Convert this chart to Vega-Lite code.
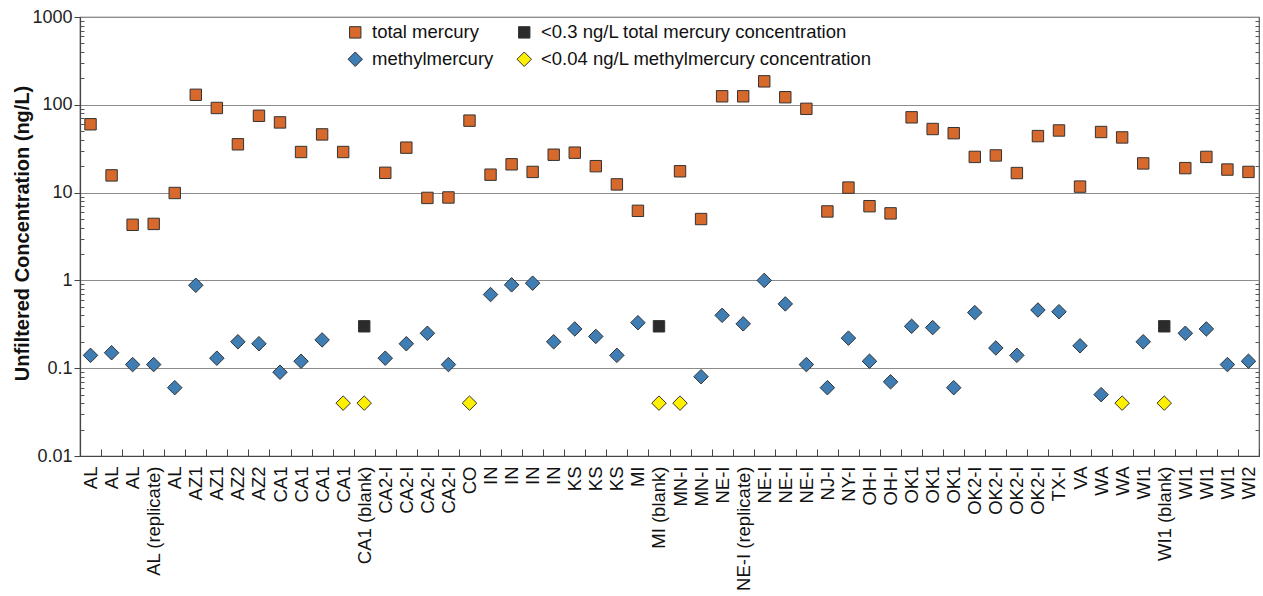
{
  "$schema": "https://vega.github.io/schema/vega-lite/v6.json",
  "autosize": {"type": "none"},
  "padding": {"left": 80, "top": 17, "right": 4, "bottom": 140},
  "width": 1179,
  "height": 439,
  "background": "white",
  "config": {
    "font": "Liberation Sans",
    "view": {"stroke": "#555555", "strokeWidth": 1.2},
    "axis": {"labelFont": "Liberation Sans", "titleFont": "Liberation Sans"},
    "legend": {"labelFont": "Liberation Sans"}
  },
  "data": {
    "values": [
      {"sample": "AL#1", "series": "total mercury", "value": 60},
      {"sample": "AL#1", "series": "methylmercury", "value": 0.14},
      {"sample": "AL#2", "series": "total mercury", "value": 15.7},
      {"sample": "AL#2", "series": "methylmercury", "value": 0.15},
      {"sample": "AL#3", "series": "total mercury", "value": 4.3},
      {"sample": "AL#3", "series": "methylmercury", "value": 0.11},
      {"sample": "AL (replicate)#4", "series": "total mercury", "value": 4.4},
      {"sample": "AL (replicate)#4", "series": "methylmercury", "value": 0.11},
      {"sample": "AL#5", "series": "total mercury", "value": 9.9},
      {"sample": "AL#5", "series": "methylmercury", "value": 0.06},
      {"sample": "AZ1#6", "series": "total mercury", "value": 130},
      {"sample": "AZ1#6", "series": "methylmercury", "value": 0.88},
      {"sample": "AZ1#7", "series": "total mercury", "value": 92},
      {"sample": "AZ1#7", "series": "methylmercury", "value": 0.13},
      {"sample": "AZ2#8", "series": "total mercury", "value": 35.5},
      {"sample": "AZ2#8", "series": "methylmercury", "value": 0.2},
      {"sample": "AZ2#9", "series": "total mercury", "value": 75},
      {"sample": "AZ2#9", "series": "methylmercury", "value": 0.19},
      {"sample": "CA1#10", "series": "total mercury", "value": 63},
      {"sample": "CA1#10", "series": "methylmercury", "value": 0.09},
      {"sample": "CA1#11", "series": "total mercury", "value": 29},
      {"sample": "CA1#11", "series": "methylmercury", "value": 0.12},
      {"sample": "CA1#12", "series": "total mercury", "value": 46},
      {"sample": "CA1#12", "series": "methylmercury", "value": 0.21},
      {"sample": "CA1#13", "series": "total mercury", "value": 29},
      {"sample": "CA1#13", "series": "<0.04 ng/L methylmercury concentration", "value": 0.04},
      {"sample": "CA1 (blank)#14", "series": "<0.3 ng/L total mercury concentration", "value": 0.3},
      {"sample": "CA1 (blank)#14", "series": "<0.04 ng/L methylmercury concentration", "value": 0.04},
      {"sample": "CA2-I#15", "series": "total mercury", "value": 16.8},
      {"sample": "CA2-I#15", "series": "methylmercury", "value": 0.13},
      {"sample": "CA2-I#16", "series": "total mercury", "value": 32.5},
      {"sample": "CA2-I#16", "series": "methylmercury", "value": 0.19},
      {"sample": "CA2-I#17", "series": "total mercury", "value": 8.7},
      {"sample": "CA2-I#17", "series": "methylmercury", "value": 0.25},
      {"sample": "CA2-I#18", "series": "total mercury", "value": 8.8},
      {"sample": "CA2-I#18", "series": "methylmercury", "value": 0.11},
      {"sample": "CO#19", "series": "total mercury", "value": 66},
      {"sample": "CO#19", "series": "<0.04 ng/L methylmercury concentration", "value": 0.04},
      {"sample": "IN#20", "series": "total mercury", "value": 16},
      {"sample": "IN#20", "series": "methylmercury", "value": 0.69},
      {"sample": "IN#21", "series": "total mercury", "value": 21},
      {"sample": "IN#21", "series": "methylmercury", "value": 0.89},
      {"sample": "IN#22", "series": "total mercury", "value": 17.2},
      {"sample": "IN#22", "series": "methylmercury", "value": 0.93},
      {"sample": "IN#23", "series": "total mercury", "value": 27},
      {"sample": "IN#23", "series": "methylmercury", "value": 0.2},
      {"sample": "KS#24", "series": "total mercury", "value": 28.5},
      {"sample": "KS#24", "series": "methylmercury", "value": 0.28},
      {"sample": "KS#25", "series": "total mercury", "value": 20},
      {"sample": "KS#25", "series": "methylmercury", "value": 0.23},
      {"sample": "KS#26", "series": "total mercury", "value": 12.4},
      {"sample": "KS#26", "series": "methylmercury", "value": 0.14},
      {"sample": "MI#27", "series": "total mercury", "value": 6.2},
      {"sample": "MI#27", "series": "methylmercury", "value": 0.33},
      {"sample": "MI (blank)#28", "series": "<0.3 ng/L total mercury concentration", "value": 0.3},
      {"sample": "MI (blank)#28", "series": "<0.04 ng/L methylmercury concentration", "value": 0.04},
      {"sample": "MN-I#29", "series": "total mercury", "value": 17.5},
      {"sample": "MN-I#29", "series": "<0.04 ng/L methylmercury concentration", "value": 0.04},
      {"sample": "MN-I#30", "series": "total mercury", "value": 5},
      {"sample": "MN-I#30", "series": "methylmercury", "value": 0.08},
      {"sample": "NE-I#31", "series": "total mercury", "value": 125},
      {"sample": "NE-I#31", "series": "methylmercury", "value": 0.4},
      {"sample": "NE-I (replicate)#32", "series": "total mercury", "value": 125},
      {"sample": "NE-I (replicate)#32", "series": "methylmercury", "value": 0.32},
      {"sample": "NE-I#33", "series": "total mercury", "value": 185},
      {"sample": "NE-I#33", "series": "methylmercury", "value": 1.0},
      {"sample": "NE-I#34", "series": "total mercury", "value": 122},
      {"sample": "NE-I#34", "series": "methylmercury", "value": 0.54},
      {"sample": "NE-I#35", "series": "total mercury", "value": 90},
      {"sample": "NE-I#35", "series": "methylmercury", "value": 0.11},
      {"sample": "NJ-I#36", "series": "total mercury", "value": 6.1},
      {"sample": "NJ-I#36", "series": "methylmercury", "value": 0.06},
      {"sample": "NY-I#37", "series": "total mercury", "value": 11.4},
      {"sample": "NY-I#37", "series": "methylmercury", "value": 0.22},
      {"sample": "OH-I#38", "series": "total mercury", "value": 7},
      {"sample": "OH-I#38", "series": "methylmercury", "value": 0.12},
      {"sample": "OH-I#39", "series": "total mercury", "value": 5.8},
      {"sample": "OH-I#39", "series": "methylmercury", "value": 0.07},
      {"sample": "OK1#40", "series": "total mercury", "value": 72},
      {"sample": "OK1#40", "series": "methylmercury", "value": 0.3},
      {"sample": "OK1#41", "series": "total mercury", "value": 53},
      {"sample": "OK1#41", "series": "methylmercury", "value": 0.29},
      {"sample": "OK1#42", "series": "total mercury", "value": 47.5},
      {"sample": "OK1#42", "series": "methylmercury", "value": 0.06},
      {"sample": "OK2-I#43", "series": "total mercury", "value": 25.5},
      {"sample": "OK2-I#43", "series": "methylmercury", "value": 0.43},
      {"sample": "OK2-I#44", "series": "total mercury", "value": 26.5},
      {"sample": "OK2-I#44", "series": "methylmercury", "value": 0.17},
      {"sample": "OK2-I#45", "series": "total mercury", "value": 16.7},
      {"sample": "OK2-I#45", "series": "methylmercury", "value": 0.14},
      {"sample": "OK2-I#46", "series": "total mercury", "value": 44},
      {"sample": "OK2-I#46", "series": "methylmercury", "value": 0.46},
      {"sample": "TX-I#47", "series": "total mercury", "value": 51},
      {"sample": "TX-I#47", "series": "methylmercury", "value": 0.44},
      {"sample": "VA#48", "series": "total mercury", "value": 11.7},
      {"sample": "VA#48", "series": "methylmercury", "value": 0.18},
      {"sample": "WA#49", "series": "total mercury", "value": 49},
      {"sample": "WA#49", "series": "methylmercury", "value": 0.05},
      {"sample": "WA#50", "series": "total mercury", "value": 42.5},
      {"sample": "WA#50", "series": "<0.04 ng/L methylmercury concentration", "value": 0.04},
      {"sample": "WI1#51", "series": "total mercury", "value": 21.5},
      {"sample": "WI1#51", "series": "methylmercury", "value": 0.2},
      {"sample": "WI1 (blank)#52", "series": "<0.3 ng/L total mercury concentration", "value": 0.3},
      {"sample": "WI1 (blank)#52", "series": "<0.04 ng/L methylmercury concentration", "value": 0.04},
      {"sample": "WI1#53", "series": "total mercury", "value": 19},
      {"sample": "WI1#53", "series": "methylmercury", "value": 0.25},
      {"sample": "WI1#54", "series": "total mercury", "value": 25.5},
      {"sample": "WI1#54", "series": "methylmercury", "value": 0.28},
      {"sample": "WI1#55", "series": "total mercury", "value": 18.3},
      {"sample": "WI1#55", "series": "methylmercury", "value": 0.11},
      {"sample": "WI2#56", "series": "total mercury", "value": 17.2},
      {"sample": "WI2#56", "series": "methylmercury", "value": 0.12}
    ]
  },
  "resolve": {"axis": {"y": "independent"}},
  "layer": [
    {
      "mark": {"type": "point", "filled": true, "opacity": 1, "stroke": "#333333", "strokeWidth": 1},
      "encoding": {
        "x": {
          "field": "sample",
          "type": "nominal",
          "sort": null,
          "scale": {"type": "band", "paddingInner": 0, "paddingOuter": 0},
          "axis": {
            "title": null,
            "labelExpr": "isValid(datum.value) ? split(datum.value, '#')[0] : ''",
            "labelAngle": -90,
            "labelFontSize": 18.5,
            "labelColor": "#111111",
            "labelPadding": 17,
            "labelOverlap": false,
            "tickBand": "extent",
            "tickSize": -7,
            "tickColor": "#444444",
            "domainColor": "#444444",
            "domainWidth": 1.2,
            "grid": false
          }
        },
        "y": {
          "field": "value",
          "type": "quantitative",
          "scale": {"type": "log", "domain": [0.01, 1000], "nice": false},
          "axis": {
            "orient": "left",
            "title": "Unfiltered Concentration (ng/L)",
            "titleFontSize": 20,
            "titleFontWeight": "bold",
            "titleColor": "#111111",
            "titleX": -58,
            "titleY": 216,
            "titleBaseline": "middle",
            "values": [0.01, 0.1, 1, 10, 100, 1000],
            "format": "~g",
            "labelFontSize": 18,
            "labelColor": "#222222",
            "labelPadding": 2,
            "tickSize": 6,
            "tickColor": "#444444",
            "domainColor": "#444444",
            "domainWidth": 1.2,
            "grid": true,
            "gridColor": "#8c8c8c",
            "gridWidth": 1.2
          }
        },
        "color": {
          "field": "series",
          "type": "nominal",
          "scale": {
            "domain": ["total mercury", "methylmercury", "<0.3 ng/L total mercury concentration", "<0.04 ng/L methylmercury concentration"],
            "range": ["#d6692b", "#3f7db5", "#2b2b2b", "#fff000"]
          },
          "legend": {
            "title": null,
            "orient": "none",
            "legendX": 266,
            "legendY": 6,
            "columns": 2,
            "columnPadding": 21,
            "rowPadding": 8,
            "labelFontSize": 18.5,
            "labelColor": "#111111",
            "labelLimit": 0,
            "labelOffset": 7.5,
            "symbolStrokeColor": "#333333",
            "symbolStrokeWidth": 1,
            "padding": 0
          }
        },
        "shape": {
          "field": "series",
          "type": "nominal",
          "scale": {
            "domain": ["total mercury", "methylmercury", "<0.3 ng/L total mercury concentration", "<0.04 ng/L methylmercury concentration"],
            "range": ["square", "diamond", "square", "diamond"]
          },
          "legend": {"title": null}
        },
        "size": {
          "field": "series",
          "type": "nominal",
          "scale": {
            "type": "ordinal",
            "domain": ["total mercury", "methylmercury", "<0.3 ng/L total mercury concentration", "<0.04 ng/L methylmercury concentration"],
            "range": [130, 210, 130, 210]
          },
          "legend": {"title": null}
        }
      }
    },
    {
      "mark": {"type": "point", "opacity": 0},
      "encoding": {
        "y": {
          "field": "value",
          "type": "quantitative",
          "axis": {
            "orient": "left",
            "title": null,
            "labels": false,
            "domain": false,
            "grid": false,
            "tickSize": -4,
            "tickColor": "#555555",
            "values": [0.02, 0.03, 0.04, 0.05, 0.06, 0.07, 0.08, 0.09, 0.2, 0.3, 0.4, 0.5, 0.6, 0.7, 0.8, 0.9, 2, 3, 4, 5, 6, 7, 8, 9, 20, 30, 40, 50, 60, 70, 80, 90, 200, 300, 400, 500, 600, 700, 800, 900]
          }
        }
      }
    },
    {
      "mark": {"type": "point", "opacity": 0},
      "encoding": {
        "y": {
          "field": "value",
          "type": "quantitative",
          "axis": {
            "orient": "right",
            "title": null,
            "labels": false,
            "domain": false,
            "grid": false,
            "tickSize": -4,
            "tickColor": "#555555",
            "values": [0.02, 0.03, 0.04, 0.05, 0.06, 0.07, 0.08, 0.09, 0.2, 0.3, 0.4, 0.5, 0.6, 0.7, 0.8, 0.9, 2, 3, 4, 5, 6, 7, 8, 9, 20, 30, 40, 50, 60, 70, 80, 90, 200, 300, 400, 500, 600, 700, 800, 900]
          }
        }
      }
    }
  ]
}
